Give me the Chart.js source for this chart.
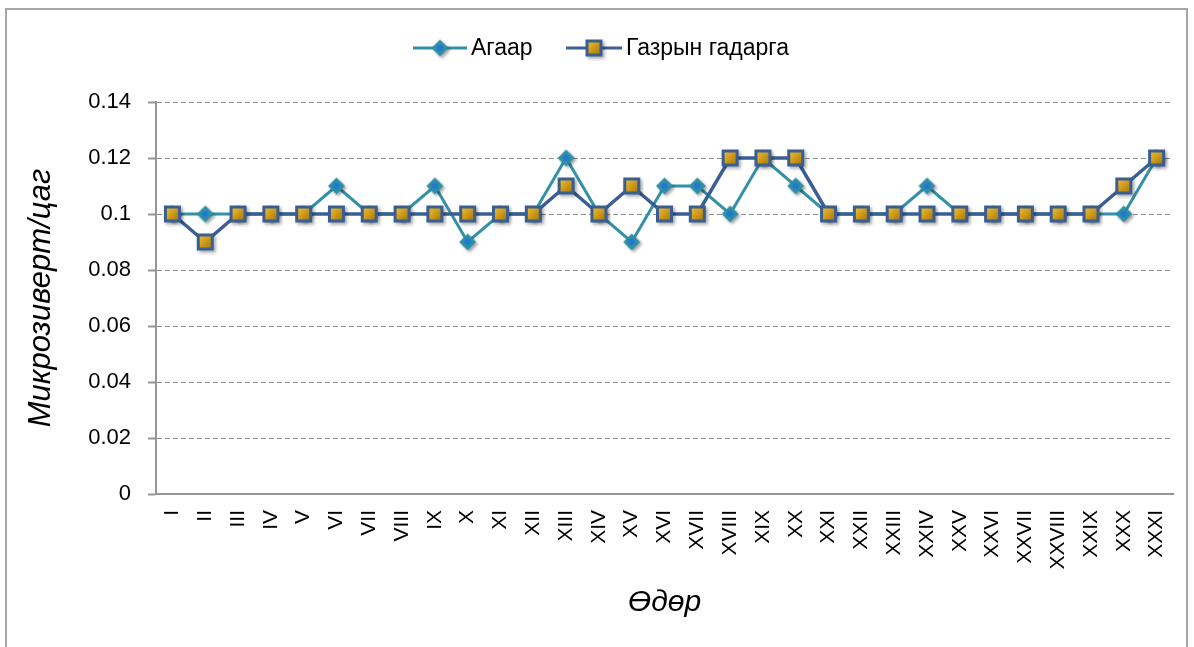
<!DOCTYPE html>
<html>
<head>
<meta charset="utf-8">
<script src="https://cdn.jsdelivr.net/npm/chart.js@4/dist/chart.umd.min.js"></script>
<style>
  html, body { margin: 0; padding: 0; background: #fff; overflow: hidden; }
  #wrap { position: relative; width: 1194px; height: 647px; }
  #frame { position: absolute; left: 5px; top: 8px; width: 1183px; height: 660px; border: 2px solid #a6a6a6; box-sizing: border-box; pointer-events: none; }
  canvas { position: absolute; left: 0; top: 0; }
</style>
</head>
<body>
<div id="wrap">
  <div id="frame"></div>
  <canvas id="c" width="1194" height="647"></canvas>
</div>
<script>
// ---- Data ----
const categories = ['I','II','III','IV','V','VI','VII','VIII','IX','X','XI','XII','XIII','XIV','XV','XVI','XVII','XVIII','XIX','XX','XXI','XXII','XXIII','XXIV','XXV','XXVI','XXVII','XXVIII','XXIX','XXX','XXXI'];
const seriesNames = ['Агаар', 'Газрын гадарга'];
const agaar = [0.10,0.10,0.10,0.10,0.10,0.11,0.10,0.10,0.11,0.09,0.10,0.10,0.12,0.10,0.09,0.11,0.11,0.10,0.12,0.11,0.10,0.10,0.10,0.11,0.10,0.10,0.10,0.10,0.10,0.10,0.12];
const gazryn = [0.10,0.09,0.10,0.10,0.10,0.10,0.10,0.10,0.10,0.10,0.10,0.10,0.11,0.10,0.11,0.10,0.10,0.12,0.12,0.12,0.10,0.10,0.10,0.10,0.10,0.10,0.10,0.10,0.10,0.11,0.12];
const yTickLabels = ['0','0.02','0.04','0.06','0.08','0.1','0.12','0.14'];
const yAxisTitle = 'Микрозиверт/цаг';
const xAxisTitle = 'Өдөр';

// ---- Marker images (with soft drop shadow) ----
const tealLine = '#3391a6';
const blueLine = '#3b5f94';
const M = 25, O = 4; // canvas size, marker offset (marker 17px centred)
function withShadow(g) {
  g.shadowColor = 'rgba(0,0,0,0.35)'; g.shadowBlur = 3; g.shadowOffsetX = 2; g.shadowOffsetY = 2;
}
function makeSquare() {
  const c = document.createElement('canvas'); c.width = M; c.height = M;
  const g = c.getContext('2d');
  g.save(); withShadow(g);
  g.fillStyle = '#3a5e91'; g.fillRect(O, O, 17, 17);
  g.restore();
  const gr = g.createLinearGradient(O + 3, O + 3, O + 14, O + 14);
  gr.addColorStop(0, '#e8bb2c'); gr.addColorStop(0.5, '#d09a1a'); gr.addColorStop(1, '#a77d12');
  g.fillStyle = gr; g.fillRect(O + 3, O + 3, 11, 11);
  return c;
}
function makeDiamond() {
  const c = document.createElement('canvas'); c.width = M; c.height = M;
  const g = c.getContext('2d');
  const m = M / 2;
  g.save(); withShadow(g);
  g.fillStyle = '#2f8ea4';
  g.beginPath(); g.moveTo(m, m - 8.5); g.lineTo(m + 8.5, m); g.lineTo(m, m + 8.5); g.lineTo(m - 8.5, m); g.closePath(); g.fill();
  g.restore();
  g.fillStyle = '#1f78d6';
  g.beginPath(); g.arc(m, m, 3, 0, Math.PI * 2); g.fill();
  return c;
}
const squareImg = makeSquare();
const diamondImg = makeDiamond();

const FONT = "'Liberation Sans', Arial, sans-serif";

// custom legend: line + marker + text
const legendPlugin = {
  id: 'lineLegend',
  afterDraw(chart) {
    const ctx = chart.ctx;
    const y = 48;
    const items = [
      { x0: 413, x1: 467, mx: 440, tx: 471, color: tealLine, img: diamondImg, label: seriesNames[0] },
      { x0: 566, x1: 622, mx: 594, tx: 626, color: blueLine, img: squareImg, label: seriesNames[1] }
    ];
    ctx.save();
    items.forEach(it => {
      ctx.strokeStyle = it.color; ctx.lineWidth = 3;
      ctx.beginPath(); ctx.moveTo(it.x0, y); ctx.lineTo(it.x1, y); ctx.stroke();
      ctx.drawImage(it.img, it.mx - it.img.width / 2, y - it.img.height / 2);
      ctx.fillStyle = '#000'; ctx.font = '23px ' + FONT;
      ctx.textBaseline = 'middle'; ctx.textAlign = 'left';
      ctx.fillText(it.label, it.tx, y + 1);
    });
    ctx.restore();
  }
};

new Chart(document.getElementById('c'), {
  type: 'line',
  data: {
    labels: categories,
    datasets: [
      { label: seriesNames[0], data: agaar, borderColor: tealLine, backgroundColor: tealLine, borderWidth: 3, pointStyle: diamondImg, pointRadius: 8, tension: 0, order: 1 },
      { label: seriesNames[1], data: gazryn, borderColor: blueLine, backgroundColor: blueLine, borderWidth: 3.5, pointStyle: squareImg, pointRadius: 8, tension: 0, order: 0 }
    ]
  },
  options: {
    responsive: false,
    animation: false,
    devicePixelRatio: 1,
    layout: { padding: { top: 102, right: 21, left: 0, bottom: 0 } },
    plugins: { legend: { display: false }, tooltip: { enabled: false } },
    scales: {
      x: {
        offset: true,
        grid: { display: false },
        border: { display: true, color: '#959595', width: 2 },
        ticks: { autoSkip: false, maxRotation: 90, minRotation: 90, padding: 8, color: '#000', font: { family: FONT, size: 21 } },
        title: { display: true, text: xAxisTitle, color: '#000', font: { family: FONT, size: 30, style: 'italic' }, padding: { top: 0, bottom: 26 } },
        afterFit(scale) { scale.height = 153; }
      },
      y: {
        min: 0, max: 0.14,
        ticks: {
          stepSize: 0.02, padding: 17, color: '#000', font: { family: FONT, size: 22 },
          callback: (v, i) => yTickLabels[i]
        },
        grid: { color: '#8e8e8e', lineWidth: 1, tickLength: 8, tickColor: '#959595', tickBorderDash: [], tickWidth: 2 },
        border: { display: true, color: '#959595', width: 2, dash: [5, 3] },
        title: { display: true, text: yAxisTitle, color: '#000', font: { family: FONT, size: 31, style: 'italic' }, padding: { top: 23, bottom: 0 } },
        afterFit(scale) { scale.width = 156; }
      }
    }
  },
  plugins: [legendPlugin]
});
</script>
</body>
</html>
